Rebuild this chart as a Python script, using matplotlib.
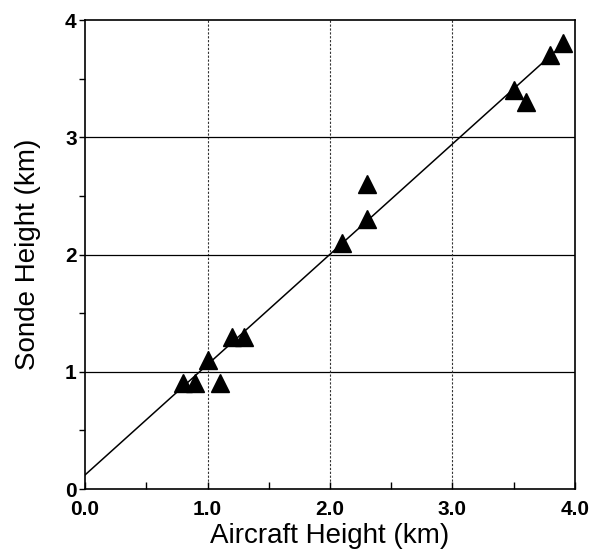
import numpy as np
import matplotlib
matplotlib.use("Agg")
import matplotlib.pyplot as plt
from matplotlib.ticker import MultipleLocator

plt.rcParams["font.family"] = ["Liberation Sans", "DejaVu Sans"]

# Aircraft vs sonde heights (km)
aircraft_km = [0.8, 0.9, 1.1, 1.0, 1.2, 1.3, 2.1, 2.3, 2.3, 3.5, 3.6, 3.8, 3.9]
sonde_km = [0.9, 0.9, 0.9, 1.1, 1.3, 1.3, 2.1, 2.3, 2.6, 3.4, 3.3, 3.7, 3.8]

# Fitted line endpoints
fit_x = [0.0, 3.9]
fit_y = [0.12, 3.79]

x_ticks = [0.0, 1.0, 2.0, 3.0, 4.0]
x_tick_labels = ["0.0", "1.0", "2.0", "3.0", "4.0"]
y_ticks = [0, 1, 2, 3, 4]
y_tick_labels = ["0", "1", "2", "3", "4"]

fig = plt.figure(figsize=(6.0, 5.51), dpi=100)
ax = fig.add_axes([0.1417, 0.1125, 0.8166, 0.8512])

# Grid lines
for v in [1, 2, 3]:
    ax.axhline(v, color="black", lw=0.9, zorder=1)
    ax.axvline(v, color="#333333", lw=0.8, ls=(0, (2, 1.5)), zorder=1)

ax.plot(fit_x, fit_y, color="black", lw=1.1, zorder=2)
ax.plot(aircraft_km, sonde_km, ls="none", marker="^", ms=13,
        color="black", zorder=3)

ax.set_xlim(0, 4)
ax.set_ylim(0, 4)
ax.set_xticks(x_ticks)
ax.set_xticklabels(x_tick_labels, fontsize=15, fontweight="bold")
ax.set_yticks(y_ticks)
ax.set_yticklabels(y_tick_labels, fontsize=15, fontweight="bold")
ax.xaxis.set_minor_locator(MultipleLocator(0.5))
ax.yaxis.set_minor_locator(MultipleLocator(0.5))
ax.tick_params(axis="x", which="both", direction="in", length=5, width=1, pad=8)
ax.tick_params(axis="y", which="both", direction="out", length=4, width=1, pad=2)

for s in ax.spines.values():
    s.set_linewidth(1.2)

ax.set_xlabel("Aircraft Height (km)", fontsize=20, labelpad=3)
ax.set_ylabel("Sonde Height (km)", fontsize=20, labelpad=17)

fig.savefig("out.png", dpi=100)
